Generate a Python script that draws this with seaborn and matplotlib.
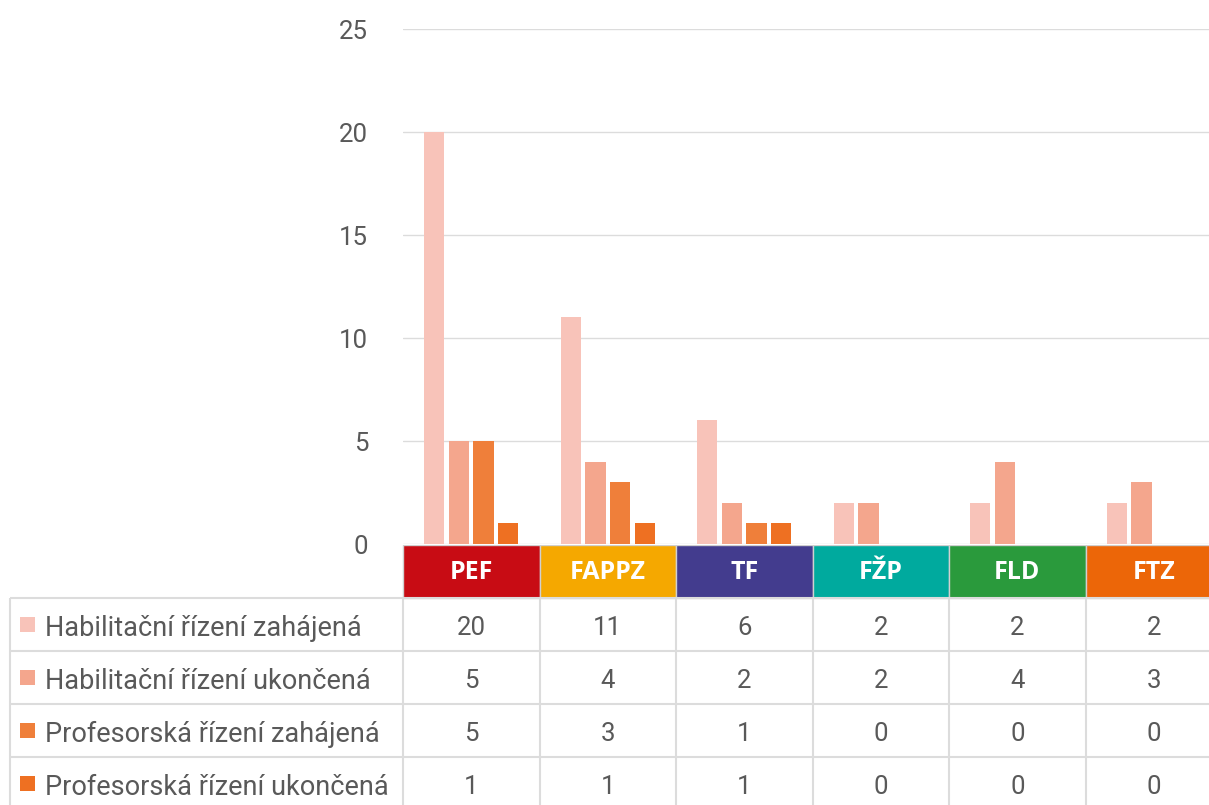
import matplotlib
matplotlib.use('Agg')
import matplotlib.pyplot as plt
from matplotlib.patches import Rectangle
import seaborn as sns
import pandas as pd

faculties = ['PEF', 'FAPPZ', 'TF', 'FŽP', 'FLD', 'FTZ']
faculty_colors = ['#C80C14', '#F5A800', '#433C8E', '#00AA9E', '#2A9A3C', '#EC6608']
series = ['Habilitační řízení zahájená', 'Habilitační řízení ukončená',
          'Profesorská řízení zahájená', 'Profesorská řízení ukončená']
series_colors = ['#F8C3B9', '#F4A68D', '#EF7F3A', '#EE7022']
hab_started = [20, 11, 6, 2, 2, 2]
hab_finished = [5, 4, 2, 2, 4, 3]
prof_started = [5, 3, 1, 0, 0, 0]
prof_finished = [1, 1, 1, 0, 0, 0]
y_ticks = [0, 5, 10, 15, 20, 25]

TEXT = '#595959'
GRID = '#DCDCDC'

values = [hab_started, hab_finished, prof_started, prof_finished]
rows = []
for name, vals in zip(series, values):
    for fac, v in zip(faculties, vals):
        rows.append({'fakulta': fac, 'rizeni': name, 'pocet': v})
df = pd.DataFrame(rows)

sns.set_theme(style='white')
plt.rcParams['font.family'] = ['Roboto', 'DejaVu Sans']

W, H = 1209, 805
fig = plt.figure(figsize=(W / 100, H / 100), dpi=100)

# one faculty column is ~136.5 px wide, the last one runs past the right edge
cell_px = 136.5
x0_px = 403
span_px = cell_px * len(faculties)

ax = fig.add_axes([x0_px / W, (H - 544) / H, span_px / W, (544 - 29) / H])
sns.barplot(data=df, x='fakulta', y='pocet', hue='rizeni', order=faculties,
            hue_order=series, palette=series_colors, saturation=1,
            width=0.72, gap=0.18, linewidth=0, legend=False, ax=ax)
ax.set_xlim(-0.5, len(faculties) - 0.5)
ax.set_ylim(0, 25)
ax.set_yticks(y_ticks)
ax.set_xticks([])
ax.set_xlabel('')
ax.set_ylabel('')
ax.yaxis.grid(True, color=GRID, linewidth=1)
ax.set_axisbelow(True)
for s in ax.spines.values():
    s.set_visible(False)
ax.tick_params(axis='y', length=0, pad=25, labelsize=18.5, labelcolor=TEXT)

# table below: same x scale as the bars, rows 53 px high
x_left = -0.5 - x0_px / cell_px
row_px = 53
tax = fig.add_axes([0, 0, (x0_px + span_px) / W, 260 / H])
tax.set_xlim(x_left, len(faculties) - 0.5)
tax.set_ylim(260 / row_px, 0)
tax.axis('off')

def px(p):
    return x_left + p / cell_px

# header row with faculty names
for i, (fac, col) in enumerate(zip(faculties, faculty_colors)):
    tax.add_patch(Rectangle((i - 0.5, 0), 1, 1, facecolor=col, edgecolor='#D0D0D0', linewidth=1))
    tax.text(i, 0.52, fac, ha='center', va='center', color='white', fontsize=18,
             fontweight='bold', family=['Open Sans', 'DejaVu Sans'])

# grid of the table
n_rows = len(series)
tax.hlines(range(1, n_rows + 1), px(10), len(faculties) - 0.5, color=GRID, linewidth=1.5)
tax.vlines([px(10)] + [i - 0.5 for i in range(len(faculties) + 1)], 1, 260 / row_px,
           color=GRID, linewidth=1.5)

sq_w = 15 / cell_px
sq_h = 15 / row_px
for r, (name, vals, col) in enumerate(zip(series, values, series_colors)):
    yc = r + 1.5
    tax.add_patch(Rectangle((px(20), yc - sq_h / 2), sq_w, sq_h, facecolor=col, edgecolor='none'))
    tax.text(px(45), yc + 0.07, name, ha='left', va='center', fontsize=19.5, color=TEXT)
    for i, v in enumerate(vals):
        tax.text(i, yc + 0.07, str(v), ha='center', va='center', fontsize=18.5, color=TEXT)

fig.savefig('out.png', dpi=100)
